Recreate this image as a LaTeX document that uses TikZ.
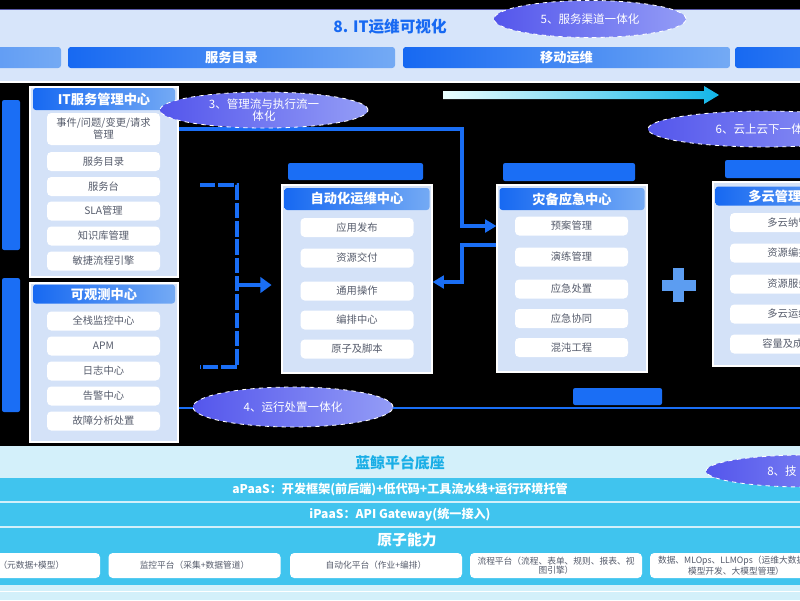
\documentclass[tikz,border=0pt]{standalone}
\usepackage{fontspec}
\usepackage{xcolor}
\usetikzlibrary{shapes.geometric,arrows.meta}
\setmainfont{Noto Sans CJK SC}

\definecolor{deepBlue}{HTML}{1769F2}
\definecolor{softBlue}{HTML}{74AAF4}
\definecolor{bandBlue}{HTML}{D7E5FA}
\definecolor{panelBlue}{HTML}{D4E2F8}
\definecolor{itemText}{HTML}{565C6C}
\definecolor{ovalLeft}{HTML}{5456EC}
\definecolor{ovalRight}{HTML}{939CF6}
\definecolor{flowBlue}{HTML}{1A6EF5}
\definecolor{plusBlue}{HTML}{5C9DF1}
\definecolor{skyBand}{HTML}{D3F0FA}
\definecolor{skyBar}{HTML}{40C4EE}
\definecolor{skyText}{HTML}{19AEE6}
\definecolor{arrowCyan}{HTML}{12B5E8}
\newcommand\unitpx{0.025cm}
\newcommand\fsz[1]{\fontsize{#1}{#1}\selectfont}

\begin{document}
\begin{tikzpicture}[x=\unitpx, y=-\unitpx,
    btn/.style={rounded corners=2pt, left color=deepBlue, right color=softBlue, text=white,
        font=\fsz{9.4}\bfseries, minimum width=327*\unitpx, minimum height=21*\unitpx, inner sep=0pt},
    head/.style={rounded corners=2pt, left color=deepBlue, right color=softBlue, text=white,
        font=\fsz{9.4}\bfseries, minimum height=22*\unitpx, inner sep=0pt},
    panel/.style={draw=white, line width=0.8pt, fill=panelBlue, inner sep=0pt},
    item/.style={rounded corners=3pt, fill=white, text=itemText, font=\fsz{7.3},
        minimum width=113*\unitpx, minimum height=19*\unitpx, inner sep=0pt, align=center},
    oval/.style={ellipse, left color=ovalLeft, right color=ovalRight, draw=white, dashed,
        line width=0.6pt, text=white, font=\fsz{8.2}, inner sep=0pt, align=center},
    flow/.style={draw=flowBlue, line width=2.3pt},
    blob/.style={fill=flowBlue, rounded corners=1.5pt},
    bar/.style={fill=skyBar, text=white, font=\fsz{8.6}\bfseries, minimum width=820*\unitpx,
        minimum height=23*\unitpx, inner sep=0pt},
    base/.style={rounded corners=3pt, fill=white, text=itemText, font=\fsz{6.2},
        minimum width=172*\unitpx, minimum height=25*\unitpx, inner sep=0pt, align=center}]

    \useasboundingbox (0,0) rectangle (800,600);
    \fill[black] (0,0) rectangle (800,600);
    \clip (0,0) rectangle (800,600);

    % top band
    \fill[bandBlue] (0,10) rectangle (800,82);
    \draw[white, line width=1pt] (0,82) -- (800,82);
    \draw[gray!70!blue, line width=0.8pt] (0,9.5) -- (800,9.5);
    \node[text=deepBlue, font=\fsz{11.1}\bfseries] (viz) at (390,27) {8. IT运维可视化};
    \node[btn] (btnA) at (-102.5,57.5) {};
    \node[btn] (btnB) at (231.5,57.5) {服务目录};
    \node[btn] (btnC) at (566.5,57.5) {移动运维};
    \node[btn] (btnD) at (898.5,57.5) {};
    \node[oval, minimum width=192*\unitpx, minimum height=37*\unitpx] (chan) at (590,19) {5、服务渠道一体化};

    \shade[left color=cyan!8!white, right color=arrowCyan]
        (443,91) -- (704,91) -- (704,86) -- (719,95) -- (704,104) -- (704,99) -- (443,99) -- cycle;

    % unreadable headings
    \fill[blob] (2,100) rectangle (20,250);
    \fill[blob] (2,278) rectangle (20,412);
    \fill[blob] (288,163) rectangle (423,180);
    \fill[blob] (503,163) rectangle (635,181);
    \fill[blob] (725,160) rectangle (805,178);
    \fill[blob] (573,388) rectangle (662,405);

    % IT service management
    \node[panel, minimum width=148*\unitpx, minimum height=190*\unitpx] (itsm) at (104,182) {};
    \node[head, minimum width=142*\unitpx] (itsmHead) at (104,99) {IT服务管理中心};
    \node[item, minimum height=32*\unitpx] (ev) at (103.5,129) {事件/问题/变更/请求\\管理};
    \node[item] (svcCat) at (103.5,161.5) {服务目录};
    \node[item] (desk) at (103.5,186.5) {服务台};
    \node[item] (sla) at (103.5,211) {SLA管理};
    \node[item] (kb) at (103.5,236) {知识库管理};
    \node[item] (agile) at (103.5,261) {敏捷流程引擎};

    % observability
    \node[panel, minimum width=148*\unitpx, minimum height=159*\unitpx] (obs) at (104,362.5) {};
    \node[head, minimum width=142*\unitpx, minimum height=19*\unitpx] (obsHead) at (104,294) {可观测中心};
    \node[item] (stack) at (103.5,321) {全栈监控中心};
    \node[item] (apm) at (103.5,346) {APM};
    \node[item] (logc) at (103.5,371) {日志中心};
    \node[item] (alarm) at (103.5,396) {告警中心};
    \node[item] (fault) at (103.5,421) {故障分析处置};

    % automation
    \node[panel, minimum width=150*\unitpx, minimum height=188*\unitpx] (auto) at (357,279) {};
    \node[head, minimum width=145*\unitpx] (autoHead) at (357,199) {自动化运维中心};
    \node[item] (release) at (357,227.5) {应用发布};
    \node[item] (deliver) at (357,258) {资源交付};
    \node[item] (common) at (357,291) {通用操作};
    \node[item] (orch) at (357,320) {编排中心};
    \node[item] (atomic) at (357,349) {原子及脚本};

    % disaster recovery
    \node[panel, minimum width=150*\unitpx, minimum height=187*\unitpx] (dr) at (572,278.5) {};
    \node[head, minimum width=145*\unitpx] (drHead) at (572,199) {灾备应急中心};
    \node[item] (plan) at (571.5,226) {预案管理};
    \node[item] (drill) at (571.5,257) {演练管理};
    \node[item] (handle) at (571.5,289) {应急处置};
    \node[item] (coop) at (571.5,318.5) {应急协同};
    \node[item] (chaos) at (571.5,347.5) {混沌工程};

    % multi cloud
    \node[panel, minimum width=150*\unitpx, minimum height=184*\unitpx] (cloud) at (788,274) {};
    \node[head, minimum width=145*\unitpx, minimum height=19*\unitpx] (cloudHead) at (788,196) {多云管理中心};
    \node[item, minimum width=116*\unitpx] (nano) at (788,222.5) {多云纳管};
    \node[item, minimum width=116*\unitpx] (arrange) at (788,253) {资源编排};
    \node[item, minimum width=116*\unitpx] (rsvc) at (788,284) {资源服务};
    \node[item, minimum width=116*\unitpx] (cops) at (788,314) {多云运维};
    \node[item, minimum width=116*\unitpx] (cost) at (788,344) {容量及成本};

    \fill[plusBlue] (662,280) rectangle (696,291);
    \fill[plusBlue] (673,268) rectangle (684,302);

    % connectors
    \coordinate (brTop) at (200,185);
    \coordinate (brBot) at (200,367);
    \coordinate (brMid) at (237,285);
    \coordinate (runEnd) at (805,408);
    \draw[flow, dash pattern=on 11pt off 2pt] (brTop) -- (237,185) -- (237,367) -- (brBot);
    \draw[flow, -{Triangle[length=8pt,width=11pt]}, shorten >=7pt] (brMid) -- (auto.west |- brMid);
    \draw[flow, -{Triangle[length=8pt,width=9pt]}] (itsm.east |- ev) -- (462,129) |- (dr.west |- plan);
    \draw[flow, -{Triangle[length=8pt,width=9pt]}] (dr.west |- 0,245) -- (462,245) |- (auto.east |- 0,282);
    \draw[flow, line width=1.6pt] (obs.east |- 0,408) -- (runEnd);

    \node[oval, minimum width=208*\unitpx, minimum height=36*\unitpx] (mgmt) at (264,110) {3、管理流与执行流一\\体化};
    \node[oval, minimum width=200*\unitpx, minimum height=40*\unitpx] (run) at (293,407) {4、运行处置一体化};
    \node[oval, minimum width=234*\unitpx, minimum height=36*\unitpx] (onoff) at (765,129) {6、云上云下一体化};

    % base platform
    \fill[skyBand] (0,446) rectangle (800,600);
    \node[text=skyText, font=\fsz{10.6}\bfseries] (bk) at (400,463) {蓝鲸平台底座};
    \node[bar] (apaas) at (400,489.5) {aPaaS：开发框架(前后端)+低代码+工具流水线+运行环境托管};
    \node[bar] (ipaas) at (400,514.5) {iPaaS：API Gateway(统一接入)};
    \node[bar, minimum height=57*\unitpx] (atom) at (400,556.5) {};
    \node[text=white, font=\fsz{10.5}\bfseries] (atomTitle) at (407,540) {原子能力};
    \node[base] (cmdb) at (14,565.5) {配置平台（元数据+模型）};
    \node[base] (mon) at (194.5,565.5) {监控平台（采集+数据管道）};
    \node[base] (autop) at (376,565.5) {自动化平台（作业+编排）};
    \node[base] (flowp) at (556,565.5) {流程平台（流程、表单、规则、报表、视\\图引擎）};
    \node[base] (aiops) at (736,565.5) {数据、MLOps、LLMOps（运维大数据、\\模型开发、大模型管理）};
    \draw[white, line width=0.6pt] (0,591) -- (800,591);
    \node[oval, minimum width=200*\unitpx, minimum height=32*\unitpx] (tech) at (806,471) {};
    \node[anchor=west, text=white, font=\fsz{8.2}, inner sep=0pt] (techText) at (767,471) {8、技};
\end{tikzpicture}
\end{document}
